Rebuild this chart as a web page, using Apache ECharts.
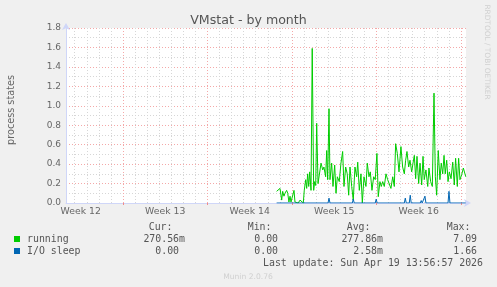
<!DOCTYPE html>
<html><head><meta charset="utf-8">
<script src="https://cdn.jsdelivr.net/npm/echarts@6/dist/echarts.min.js"></script>
<style>html,body{margin:0;padding:0;background:#f0f0f0}#c{width:497px;height:287px}</style>
</head><body><div id="c"></div>
<script>
// ---- data (x = days since the Monday that starts Week 12) ----
const weekLabels = ['Week 12', 'Week 13', 'Week 14', 'Week 15', 'Week 16'];
const weekStarts = [7, 14, 21, 28, 35];
const xRange = [2.28, 35.42];

const runTimes = [19.73,19.87,20.01,20.15,20.23,20.34,20.42,20.56,20.65,20.75,20.84,20.92,21.03,21.17,21.25,21.39,21.52,21.67,21.81,21.94,
  22.02,22.14,22.22,22.30,22.39,22.47,22.58,22.68,22.80,22.88,22.97,23.05,23.16,23.24,23.41,23.55,23.65,23.79,23.88,23.96,
  24.07,24.15,24.29,24.40,24.54,24.65,24.76,24.92,25.06,25.20,25.31,25.45,25.58,25.70,25.81,25.95,26.08,26.22,26.36,26.45,
  26.58,26.72,26.83,26.97,27.13,27.24,27.38,27.49,27.63,27.77,27.90,28.04,28.15,28.29,28.40,28.52,28.65,28.79,28.93,29.06,
  29.20,29.35,29.48,29.59,29.73,29.87,30.03,30.17,30.31,30.42,30.53,30.67,30.78,30.92,31.03,31.14,31.25,31.36,31.50,31.61,
  31.75,31.86,31.96,32.10,32.25,32.35,32.49,32.63,32.77,32.88,32.99,33.12,33.26,33.37,33.49,33.60,33.70,33.82,33.93,34.04,
  34.18,34.32,34.45,34.56,34.70,34.81,34.92,35.06,35.20,35.31,35.40];
const runValues = [0.12,0.10,0.15,0.03,0.12,0.07,0.10,0.13,0.10,0.01,0.07,0.01,0.03,0.13,0.01,0.03,0.00,0.03,0.01,0.00,
  0.13,0.24,0.15,0.30,0.17,0.32,0.13,1.59,0.13,0.22,0.18,0.82,0.20,0.20,0.41,0.34,0.37,0.27,0.54,0.24,
  0.97,0.24,0.41,0.17,0.39,0.10,0.27,0.22,0.41,0.53,0.17,0.37,0.30,0.08,0.37,0.17,0.03,0.37,0.27,0.42,
  0.13,0.30,0.00,0.27,0.17,0.41,0.27,0.32,0.13,0.27,0.24,0.51,0.065,0.22,0.17,0.22,0.17,0.30,0.24,0.25,
  0.15,0.27,0.17,0.61,0.51,0.32,0.58,0.37,0.30,0.44,0.53,0.37,0.44,0.32,0.41,0.49,0.25,0.48,0.20,0.41,
  0.185,0.48,0.24,0.34,0.17,0.36,0.22,0.17,1.13,0.27,0.08,0.54,0.24,0.41,0.30,0.49,0.30,0.44,0.22,0.32,
  0.25,0.42,0.185,0.46,0.17,0.46,0.24,0.29,0.36,0.34,0.27];

const ioTimes = [19.73,23.99,24.07,24.15,26.00,26.08,26.16,27.90,27.98,28.06,30.31,30.39,30.47,30.72,30.80,30.88,
  31.63,31.71,31.79,31.94,32.02,32.10,33.93,34.01,34.09,35.40];
const ioValues = [0,0,0.05,0,0,0.04,0,0,0.04,0,0,0.05,0,0,0.08,0,0,0.025,0,0,0.07,0,0,0.12,0,0];

const seriesNames = ['running', 'I/O sleep'];
const seriesColors = ['#00cc00', '#0066b3'];
const statHeaders = ['Cur:', 'Min:', 'Avg:', 'Max:'];
const runningStats = ['270.56m', '0.00', '277.86m', '7.09'];
const ioSleepStats = ['0.00', '0.00', '2.58m', '1.66'];
const lastUpdate = 'Last update: Sun Apr 19 13:56:57 2026';

// ---- layout ----
const weekCenters = weekStarts.map(w => w - 3.5);
const minorDays = [];
for (let d = Math.ceil(xRange[0]); d <= Math.floor(xRange[1]); d++) if (weekStarts.indexOf(d) < 0) minorDays.push(d);

const MONO = 'DejaVu Sans Mono';
const SANS = 'DejaVu Sans';
const TXT = '#555';
const charW = 5.95;
const colRight = [185, 284, 383, 483];
const graphic = [];
statHeaders.forEach((h, i) => graphic.push({type:'text', x: colRight[i] - 12.5, y: 227.3,
  style:{text:h, fill:TXT, font:'9.9px ' + MONO, textAlign:'right', textVerticalAlign:'middle'}}));
[runningStats, ioSleepStats].forEach((row, r) => row.forEach((v, i) => graphic.push({type:'text',
  x: colRight[i] - (/[a-zA-Z]$/.test(v) ? 0 : charW), y: 239.3 + r * 12,
  style:{text:v, fill:TXT, font:'9.9px ' + MONO, textAlign:'right', textVerticalAlign:'middle'}})));
graphic.push({type:'text', x: 483, y: 263.3, style:{text:lastUpdate, fill:TXT, font:'9.9px ' + MONO, textAlign:'right', textVerticalAlign:'middle'}});
graphic.push({type:'text', x: 248, y: 276.7, style:{text:'Munin 2.0.76', fill:'#d0d0d0', font:'7.6px ' + SANS, textAlign:'center', textVerticalAlign:'middle'}});
graphic.push({type:'text', x: 487, y: 52, rotation: -Math.PI / 2, style:{text:'RRDTOOL / TOBI OETIKER', fill:'#d0d0d0', font:'7.4px ' + SANS, textAlign:'center', textVerticalAlign:'middle'}});
graphic.push({type:'text', x: 11, y: 110, rotation: Math.PI / 2, style:{text:'process states', fill:'#666', font:'9.7px ' + SANS, textAlign:'center', textVerticalAlign:'middle'}});

const chart = echarts.init(document.getElementById('c'), null, {renderer:'canvas'});
chart.setOption({
  animation: false,
  backgroundColor: '#f0f0f0',
  title: {text:'VMstat - by month', left:'center', top:9, textStyle:{fontFamily:SANS, fontSize:12.6, fontWeight:'normal', color:TXT}},
  grid: {left:66, top:28, width:400, height:175, show:true, backgroundColor:'#ffffff', borderWidth:0, containLabel:false, outerBoundsMode:'none'},
  legend: {data: seriesNames, orient:'vertical', left:14, top:233, padding:0, itemGap:0, icon:'rect', itemWidth:6, itemHeight:6,
    textStyle:{fontFamily:MONO, fontSize:9.9, color:TXT, lineHeight:12, padding:[0,0,0,2]}, selectedMode:false},
  xAxis: [
    {type:'value', min:xRange[0], max:xRange[1], position:'bottom',
     axisLine:{show:true, lineStyle:{color:'#cfd6f8'}, symbol:['none','arrow'], symbolSize:[6,7], symbolOffset:[0,5]},
     axisTick:{show:false, customValues:minorDays},
     axisLabel:{show:false},
     splitLine:{show:true, lineStyle:{color:'#d6d6d6', type:[1,2], width:1}}},
    {type:'value', min:xRange[0], max:xRange[1], position:'bottom',
     axisLine:{show:false},
     axisTick:{show:true, customValues:weekStarts, length:2, lineStyle:{color:'#f08a8a'}},
     axisLabel:{customValues:weekCenters, formatter: v => weekLabels[weekCenters.indexOf(v)] || '', margin:4,
       fontFamily:SANS, fontSize:9.3, color:'#666'},
     splitLine:{show:true, lineStyle:{color:'#f4a8a8', type:[1,2], width:1}}}
  ],
  yAxis: {type:'value', min:0, max:1.8, interval:0.2,
    axisLine:{show:true, lineStyle:{color:'#cfd6f8'}, symbol:['none','arrow'], symbolSize:[6,7], symbolOffset:[0,5]},
    axisTick:{show:false},
    minorTick:{show:false, splitNumber:2},
    axisLabel:{formatter: v => v.toFixed(1), margin:5, fontFamily:SANS, fontSize:9, color:'#666'},
    splitLine:{show:true, lineStyle:{color:'#f4a8a8', type:[1,2], width:1}},
    minorSplitLine:{show:true, lineStyle:{color:'#d6d6d6', type:[1,2], width:1}}},
  series: [
    {name:seriesNames[0], type:'line', xAxisIndex:0, showSymbol:false, symbol:'none', color:seriesColors[0],
     lineStyle:{width:1, color:seriesColors[0]}, data: runTimes.map((t, i) => [t, runValues[i]])},
    {name:seriesNames[1], type:'line', xAxisIndex:0, showSymbol:false, symbol:'none', color:seriesColors[1],
     lineStyle:{width:1, color:seriesColors[1]}, data: ioTimes.map((t, i) => [t, ioValues[i]])}
  ],
  graphic: graphic
});
</script></body></html>
